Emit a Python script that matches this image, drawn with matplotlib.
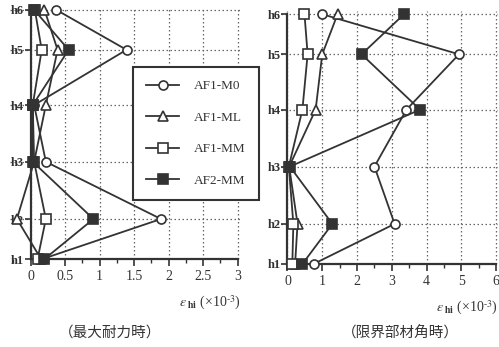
import matplotlib
matplotlib.use("Agg")
import matplotlib.pyplot as plt
from matplotlib.ticker import MultipleLocator

# ── data ──────────────────────────────────────────────────────────────────────
levels = ["h1", "h2", "h3", "h4", "h5", "h6"]
level_pos = [0, 1.0, 2.43, 3.85, 5.23, 6.23]

series = ["AF1-M0", "AF1-ML", "AF1-MM", "AF2-MM"]

# 最大耐力時 (h1 -> h6)
peak_m0 = [0.17, 1.89, 0.22, 0.05, 1.39, 0.37]
peak_ml = [0.15, -0.20, 0.05, 0.22, 0.39, 0.20]
peak_mm = [0.10, 0.22, 0.05, 0.03, 0.16, 0.06]
peak_af2 = [0.20, 0.91, 0.03, 0.03, 0.55, 0.05]

# 限界部材角時 (h1 -> h6)
lim_m0 = [0.75, 3.08, 2.50, 3.42, 4.93, 1.00]
lim_ml = [0.22, 0.29, 0.05, 0.81, 1.00, 1.44]
lim_mm = [0.14, 0.17, 0.04, 0.43, 0.58, 0.49]
lim_af2 = [0.43, 1.29, 0.07, 3.81, 2.13, 3.35]

captions = ["（最大耐力時）", "（限界部材角時）"]

# ── style ─────────────────────────────────────────────────────────────────────
INK = "#333333"
SERIF = ["Liberation Serif", "DejaVu Serif"]
CJK = ["Noto Sans CJK JP", "DejaVu Sans"]
styles = [
    dict(marker="o", mfc="white"),
    dict(marker="^", mfc="white"),
    dict(marker="s", mfc="white"),
    dict(marker="s", mfc=INK),
]

plt.rcParams["font.family"] = SERIF
plt.rcParams["mathtext.fontset"] = "stix"

fig = plt.figure(figsize=(4.99, 3.47), dpi=100)
fig.patch.set_facecolor("white")

ax1 = fig.add_axes([10 / 499, 88 / 347, 231 / 499, 252 / 347])
ax2 = fig.add_axes([277 / 499, 83 / 347, 221 / 499, 252.6 / 347])


def draw(ax, data, xmax, major, minor):
    handles = []
    for vals, st, name in zip(data, styles, series):
        h, = ax.plot(vals, level_pos, color=INK, lw=1.3, ms=6.5,
                     mec=INK, mew=1.2, label=name, clip_on=False,
                     zorder=4, **st)
        handles.append(h)
    ax.set_xlim(-0.3, xmax + 0.05)
    ax.set_ylim(0, 6.3)
    ax.spines["left"].set_position(("data", 0))
    ax.spines["left"].set_bounds(0, level_pos[-1])
    ax.spines["bottom"].set_bounds(0, xmax)
    for s in ("top", "right"):
        ax.spines[s].set_visible(False)
    for s in ("left", "bottom"):
        ax.spines[s].set_linewidth(1.6)
        ax.spines[s].set_color(INK)
    ax.set_yticks(level_pos)
    ax.set_yticklabels(levels, fontweight="bold", fontsize=9)
    ax.xaxis.set_major_locator(MultipleLocator(major))
    ax.xaxis.set_minor_locator(MultipleLocator(minor))
    ax.set_xticks([t for t in ax.get_xticks() if 0 <= t <= xmax])
    ax.tick_params(axis="x", which="major", length=5, width=1.2,
                   labelsize=10, colors=INK, pad=3)
    ax.tick_params(axis="x", which="minor", length=3, width=1.0, colors=INK)
    ax.tick_params(axis="y", length=4, width=1.2, colors=INK, pad=1)
    ax.grid(True, which="major", linestyle=(0, (1.2, 2.0)),
            color="#666666", lw=0.9)
    ax.set_axisbelow(True)
    ax.text(1.0, -0.175, r"$\varepsilon_{\ \mathbf{hi}}$" + " (×10$^{\\text{-}3}$)",
            transform=ax.transAxes, ha="right", va="center",
            fontsize=10, color=INK)
    return handles


handles = draw(ax1, [peak_m0, peak_ml, peak_mm, peak_af2], 3, 0.5, 0.25)
ax1.set_xticklabels(["0", "0.5", "1", "1.5", "2", "2.5", "3"])
draw(ax2, [lim_m0, lim_ml, lim_mm, lim_af2], 6, 1, 0.5)

fig.text(110 / 499, 1 - 333 / 347, captions[0], ha="center", va="center",
         fontsize=10.5, family=CJK, color=INK)
fig.text(400 / 499, 1 - 333 / 347, captions[1], ha="center", va="center",
         fontsize=10.5, family=CJK, color=INK)

leg = fig.legend(handles=handles, loc="upper left",
                 bbox_to_anchor=(133 / 499, 1 - 67 / 347),
                 fontsize=9.5, frameon=True, fancybox=False,
                 edgecolor=INK, framealpha=1, borderpad=1.0,
                 labelspacing=1.45, handlelength=2.5, handletextpad=1.1,
                 borderaxespad=0)
leg.get_frame().set_linewidth(1.5)
for t in leg.get_texts():
    t.set_color(INK)

fig.savefig("out.png", dpi=100, facecolor="white")
